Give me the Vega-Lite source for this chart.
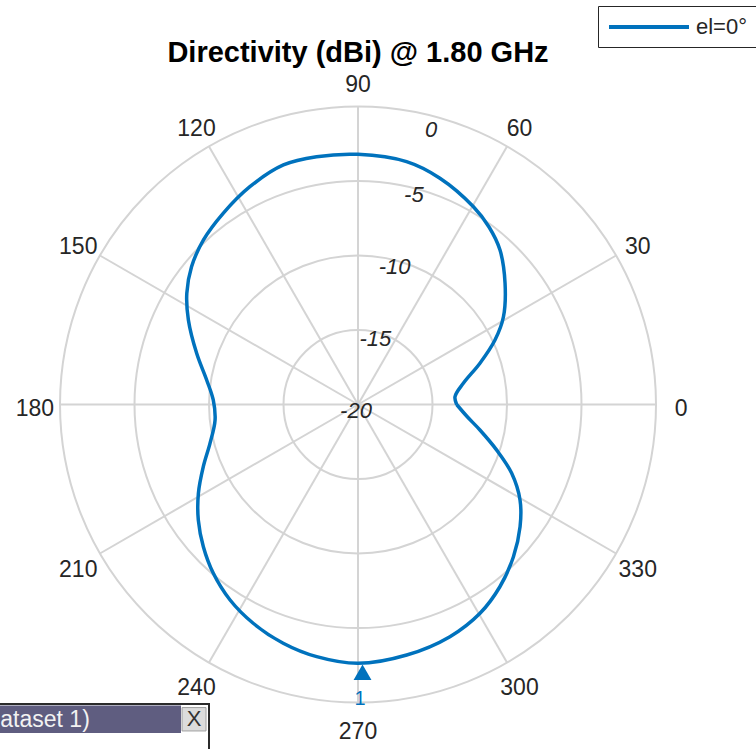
{
  "$schema": "https://vega.github.io/schema/vega-lite/v6.json",
  "width": 756,
  "height": 749,
  "autosize": {"type": "none"},
  "padding": 0,
  "background": "white",
  "config": {
    "view": {"stroke": null},
    "text": {"font": "Liberation Sans"},
    "legend": {"labelFont": "Liberation Sans"}
  },
  "datasets": {
    "angles": [
      {"a": 0, "t": "0"}, {"a": 30, "t": "30"}, {"a": 60, "t": "60"}, {"a": 90, "t": "90"},
      {"a": 120, "t": "120"}, {"a": 150, "t": "150"}, {"a": 180, "t": "180"}, {"a": 210, "t": "210"},
      {"a": 240, "t": "240"}, {"a": 270, "t": "270"}, {"a": 300, "t": "300"}, {"a": 330, "t": "330"}
    ],
    "rings": [{"db": -15}, {"db": -10}, {"db": -5}, {"db": 0}],
    "rlabels": [
      {"t": "-20", "db": -20}, {"t": "-15", "db": -15}, {"t": "-10", "db": -10},
      {"t": "-5", "db": -5}, {"t": "0", "db": 0}
    ],
    "pattern": [
      {"a": 0, "db": -13.38}, {"a": 4.6, "db": -13.47}, {"a": 11.4, "db": -12.79}, {"a": 18.7, "db": -11.36},
      {"a": 25.2, "db": -9.84}, {"a": 31.1, "db": -8.6}, {"a": 39.5, "db": -7.21}, {"a": 47.4, "db": -5.92},
      {"a": 53.5, "db": -5.2}, {"a": 59.8, "db": -4.63}, {"a": 70.1, "db": -3.85}, {"a": 78.7, "db": -3.38},
      {"a": 90, "db": -3.21}, {"a": 99.5, "db": -3.14}, {"a": 107.3, "db": -3.16}, {"a": 116.4, "db": -3.68},
      {"a": 125.2, "db": -4.3}, {"a": 133.2, "db": -4.85}, {"a": 140.4, "db": -5.5}, {"a": 147, "db": -6.3},
      {"a": 153.5, "db": -7.28}, {"a": 162.4, "db": -8.64}, {"a": 170.8, "db": -9.71}, {"a": 178.2, "db": -10.28},
      {"a": 186.2, "db": -10.35}, {"a": 194.7, "db": -9.73}, {"a": 201.9, "db": -8.81}, {"a": 209.1, "db": -7.74},
      {"a": 215.9, "db": -6.77}, {"a": 222.6, "db": -5.9}, {"a": 229.4, "db": -5.08}, {"a": 236.8, "db": -4.32},
      {"a": 244.4, "db": -3.72}, {"a": 252.6, "db": -3.21}, {"a": 260.7, "db": -2.85}, {"a": 270, "db": -2.63},
      {"a": 281, "db": -2.87}, {"a": 291.6, "db": -3.24}, {"a": 300.3, "db": -3.77}, {"a": 307.9, "db": -4.5},
      {"a": 315.6, "db": -5.4}, {"a": 323, "db": -6.38}, {"a": 329.5, "db": -7.38}, {"a": 335.9, "db": -8.7},
      {"a": 341.8, "db": -10.2}, {"a": 348.2, "db": -11.64}, {"a": 353.6, "db": -12.62}, {"a": 360, "db": -13.38}
    ],
    "peak": [{"a": 271, "db": -2.63, "lab": "1"}],
    "titles": [{"t": "Directivity (dBi) @ 1.80 GHz"}],
    "tip": [{"t": "(Dataset 1)", "b": "X"}]
  },
  "encoding": {
    "x": {"field": "x", "type": "quantitative", "scale": {"domain": [-24.027, 26.711], "nice": false, "zero": false}, "axis": null},
    "y": {"field": "y", "type": "quantitative", "scale": {"domain": [-23.121, 27.148], "nice": false, "zero": false}, "axis": null}
  },
  "layer": [
    {
      "data": {"name": "rings"},
      "transform": [
        {"calculate": "datum.db + 20", "as": "r"},
        {"calculate": "0", "as": "x"},
        {"calculate": "0", "as": "y"}
      ],
      "mark": {"type": "point", "shape": "circle", "filled": false, "stroke": "#d4d4d4", "strokeWidth": 2, "opacity": 1},
      "encoding": {
        "size": {"field": "r", "type": "quantitative", "scale": {"type": "pow", "exponent": 2, "domain": [0, 20], "range": [0, 355216]}, "legend": null}
      }
    },
    {
      "data": {"name": "angles"},
      "transform": [
        {"calculate": "0", "as": "x"},
        {"calculate": "0", "as": "y"},
        {"calculate": "20 * cos(datum.a * PI / 180)", "as": "x2"},
        {"calculate": "20 * sin(datum.a * PI / 180)", "as": "y2"}
      ],
      "mark": {"type": "rule", "stroke": "#d4d4d4", "strokeWidth": 2},
      "encoding": {
        "x2": {"field": "x2"},
        "y2": {"field": "y2"}
      }
    },
    {
      "data": {"name": "angles"},
      "transform": [
        {"calculate": "21.68 * cos(datum.a * PI / 180)", "as": "x"},
        {"calculate": "21.68 * sin(datum.a * PI / 180)", "as": "y"}
      ],
      "mark": {"type": "text", "fontSize": 23, "color": "#262626", "align": "center", "baseline": "middle", "dy": 4},
      "encoding": {"text": {"field": "t"}}
    },
    {
      "data": {"name": "rlabels"},
      "transform": [
        {"calculate": "min(datum.db + 20, 19.5)", "as": "r"},
        {"calculate": "datum.r * cos(75 * PI / 180)", "as": "x"},
        {"calculate": "datum.r * sin(75 * PI / 180)", "as": "y"}
      ],
      "mark": {"type": "text", "fontSize": 22, "fontStyle": "italic", "color": "#262626", "align": "center", "baseline": "middle", "dx": -2, "dy": 6},
      "encoding": {"text": {"field": "t"}}
    },
    {
      "data": {"name": "pattern"},
      "transform": [
        {"calculate": "datum.db + 20", "as": "r"},
        {"calculate": "datum.r * cos(datum.a * PI / 180)", "as": "x"},
        {"calculate": "datum.r * sin(datum.a * PI / 180)", "as": "y"}
      ],
      "mark": {"type": "line", "strokeWidth": 3.5, "interpolate": "catmull-rom"},
      "encoding": {
        "order": {"field": "a", "type": "quantitative"},
        "color": {
          "datum": "el=0°",
          "type": "nominal",
          "scale": {"range": ["#0072BD"]},
          "legend": {
            "title": null,
            "orient": "none",
            "legendX": 598,
            "legendY": 6,
            "padding": 9,
            "fillColor": "white",
            "strokeColor": "#262626",
            "symbolType": "M-1,0H7",
            "symbolSize": 400,
            "symbolStrokeWidth": 4,
            "labelFontSize": 22,
            "labelColor": "#262626",
            "labelOffset": 65
          }
        }
      }
    },
    {
      "data": {"name": "peak"},
      "transform": [
        {"calculate": "datum.db + 20", "as": "r"},
        {"calculate": "datum.r * cos(datum.a * PI / 180)", "as": "x"},
        {"calculate": "datum.r * sin(datum.a * PI / 180)", "as": "y"}
      ],
      "mark": {"type": "point", "shape": "triangle-up", "filled": true, "size": 320, "color": "#0072BD", "opacity": 1, "yOffset": 9}
    },
    {
      "data": {"name": "peak"},
      "transform": [
        {"calculate": "datum.db + 20", "as": "r"},
        {"calculate": "datum.r * cos(datum.a * PI / 180)", "as": "x"},
        {"calculate": "datum.r * sin(datum.a * PI / 180)", "as": "y"}
      ],
      "mark": {"type": "text", "fontSize": 20, "color": "#0072BD", "align": "center", "baseline": "middle", "dx": -2.5, "dy": 36},
      "encoding": {"text": {"field": "lab"}}
    },
    {
      "data": {"name": "titles"},
      "transform": [
        {"calculate": "0", "as": "x"},
        {"calculate": "23.02", "as": "y"}
      ],
      "mark": {"type": "text", "fontSize": 29, "fontWeight": "bold", "color": "#000000", "align": "center", "baseline": "alphabetic"},
      "encoding": {"text": {"field": "t"}}
    },
    {
      "data": {"name": "tip"},
      "transform": [
        {"calculate": "-24.2", "as": "x"},
        {"calculate": "-10.0", "as": "x2"},
        {"calculate": "-20.1", "as": "y"},
        {"calculate": "-23.9", "as": "y2"}
      ],
      "mark": {"type": "rect", "fill": "white", "stroke": "#2b2b2b", "strokeWidth": 2},
      "encoding": {"x2": {"field": "x2"}, "y2": {"field": "y2"}}
    },
    {
      "data": {"name": "tip"},
      "transform": [
        {"calculate": "-24.2", "as": "x"},
        {"calculate": "-11.88", "as": "x2"},
        {"calculate": "-20.2", "as": "y"},
        {"calculate": "-22.05", "as": "y2"}
      ],
      "mark": {"type": "rect", "fill": "#5f5d80"},
      "encoding": {"x2": {"field": "x2"}, "y2": {"field": "y2"}}
    },
    {
      "data": {"name": "tip"},
      "transform": [
        {"calculate": "-11.81", "as": "x"},
        {"calculate": "-10.2", "as": "x2"},
        {"calculate": "-20.34", "as": "y"},
        {"calculate": "-21.91", "as": "y2"}
      ],
      "mark": {"type": "rect", "fill": "#dcdcdc", "stroke": "#a0a0a0", "strokeWidth": 1},
      "encoding": {"x2": {"field": "x2"}, "y2": {"field": "y2"}}
    },
    {
      "data": {"name": "tip"},
      "transform": [
        {"calculate": "-18.0", "as": "x"},
        {"calculate": "-21.65", "as": "y"}
      ],
      "mark": {"type": "text", "fontSize": 23, "color": "#f2f2f2", "align": "right", "baseline": "alphabetic"},
      "encoding": {"text": {"field": "t"}}
    },
    {
      "data": {"name": "tip"},
      "transform": [
        {"calculate": "-11.0", "as": "x"},
        {"calculate": "-21.14", "as": "y"}
      ],
      "mark": {"type": "text", "fontSize": 22, "color": "#333333", "align": "center", "baseline": "middle"},
      "encoding": {"text": {"field": "b"}}
    }
  ]
}
